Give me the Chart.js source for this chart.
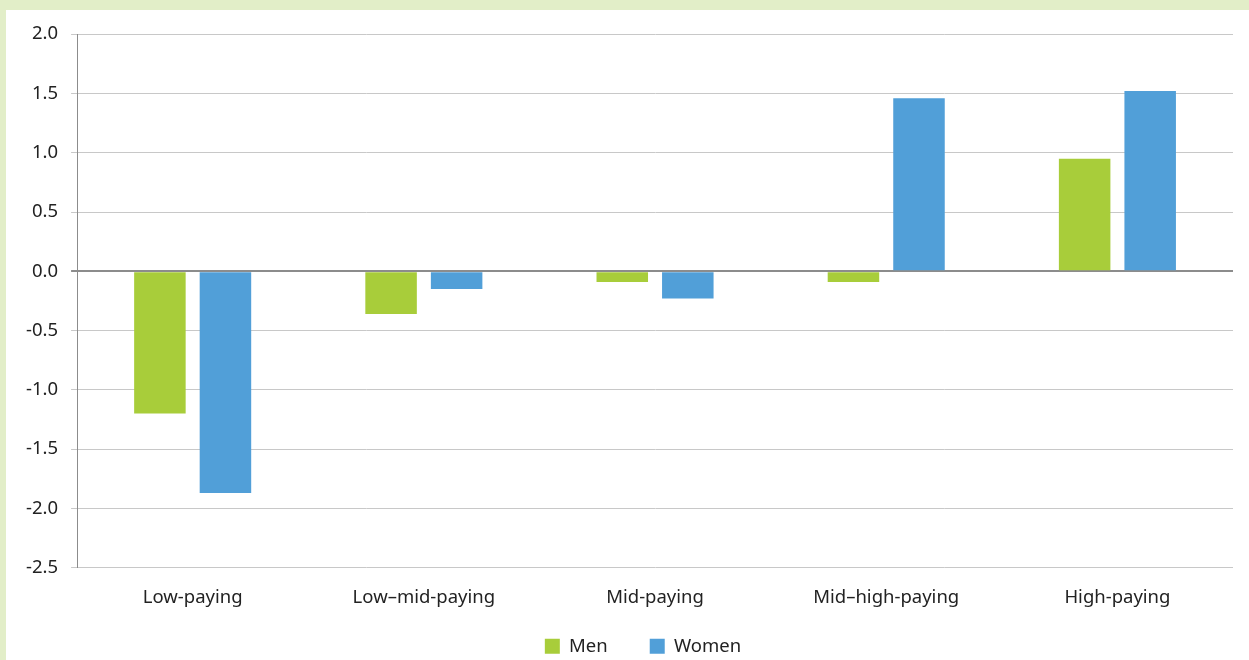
<!DOCTYPE html>
<html><head><meta charset="utf-8">
<script src="https://cdn.jsdelivr.net/npm/chart.js@4/dist/chart.umd.min.js"></script>
<style>
html,body{margin:0;padding:0;background:#E2EEC8;width:1249px;height:660px;overflow:hidden;}
#panel{position:absolute;left:6px;top:10px;width:1243px;height:650px;background:#fff;}
</style></head>
<body><div id="panel"><canvas id="c" width="1243" height="650"></canvas></div>
<script>
const categories = ["Low-paying","Low\u2013mid-paying","Mid-paying","Mid\u2013high-paying","High-paying"];
const men = [-1.20,-0.36,-0.09,-0.09,0.95];
const women = [-1.87,-0.15,-0.23,1.46,1.52];
const FONT = "'Noto Sans', sans-serif";
const legendFix = {
  id:'legendFix',
  afterInit(chart){
    const lg = chart.legend; const f = lg.fit;
    lg.fit = function(){ f.call(this); this.height = 40; };
  },
  afterLayout(chart){
    const lg = chart.legend;
    lg.top -= 25; lg.height = 65; lg.bottom = lg.top + 65;
    lg.left += 20; lg.right += 20;
  }
};
new Chart(document.getElementById('c'), {
  type:'bar',
  data:{labels:categories,datasets:[
    {label:'Men',data:men,backgroundColor:'#A8CD3A',categoryPercentage:0.567,barPercentage:0.786},
    {label:'Women',data:women,backgroundColor:'#519FD8',categoryPercentage:0.567,barPercentage:0.786}
  ]},
  plugins:[legendFix],
  options:{
    responsive:false,animation:false,
    layout:{padding:{top:11,right:16,left:7,bottom:0}},
    plugins:{
      legend:{position:'bottom',labels:{boxWidth:15,boxHeight:15,padding:42,color:'#222',font:{family:FONT,size:18.5}}},
      tooltip:{enabled:false}
    },
    scales:{
      x:{grid:{display:false},border:{display:false},ticks:{color:'#222',font:{family:FONT,size:18.5},padding:11}},
      y:{min:-2.5,max:2,
        ticks:{stepSize:0.5,color:'#222',font:{family:FONT,size:18.5},padding:13,callback:v=>v.toFixed(1)},
        grid:{color:ctx=>ctx.tick && ctx.tick.value===0?'#8c8c8c':'#c8c8c8',lineWidth:ctx=>ctx.tick && ctx.tick.value===0?2:1,tickLength:6},
        border:{display:true,color:'#8c8c8c'}
      }
    }
  }
});
</script></body></html>
